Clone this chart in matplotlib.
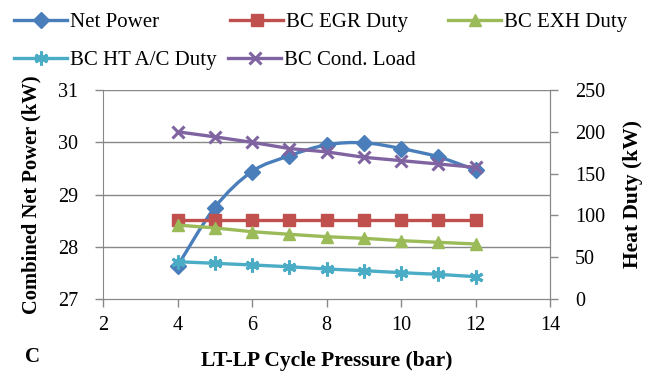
import matplotlib.pyplot as plt
from matplotlib.path import Path
from matplotlib.patches import PathPatch
from matplotlib.lines import Line2D

plt.rcParams['font.family'] = ['Liberation Serif', 'DejaVu Serif']

pressure = [4, 5, 6, 7, 8, 9, 10, 11, 12]
net_power = [27.63, 28.75, 29.44, 29.74, 29.95, 29.99, 29.88, 29.72, 29.47]
egr_duty = [95, 95, 95, 95, 95, 95, 95, 95, 95]
exh_duty = [88.5, 85, 80.5, 77.4, 74.5, 72.6, 69.8, 67.8, 65.8]
ht_ac_duty = [44.6, 42.7, 40.7, 38.6, 35.9, 33.9, 31.5, 29.5, 26.7]
cond_load = [200, 194, 187.4, 180, 176, 169.5, 165.5, 161.5, 157.5]

blue = '#4A7EBB'
red = '#C0504D'
green = '#9BBB59'
cyan = '#4BACC6'
purple = '#8064A2'
grey = '#888888'

W, H = 647, 372
fig = plt.figure(figsize=(W / 100, H / 100), dpi=100)
ax = fig.add_axes([103 / W, 1 - 299 / H, 447 / W, 209 / H])
ax2 = ax.twinx()


def smooth_path(xs, ys):
    # bezier segments through the points, like a spreadsheet "smoothed line"
    pts = list(zip(xs, ys))
    verts = [pts[0]]
    codes = [Path.MOVETO]
    for i in range(len(pts) - 1):
        p0 = pts[max(i - 1, 0)]
        p1 = pts[i]
        p2 = pts[i + 1]
        p3 = pts[min(i + 2, len(pts) - 1)]
        c1 = (p1[0] + (p2[0] - p0[0]) / 6, p1[1] + (p2[1] - p0[1]) / 6)
        c2 = (p2[0] - (p3[0] - p1[0]) / 6, p2[1] - (p3[1] - p1[1]) / 6)
        verts += [c1, c2, p2]
        codes += [Path.CURVE4] * 3
    return Path(verts, codes)


ax.add_patch(PathPatch(smooth_path(pressure, net_power), fill=False,
                       edgecolor=blue, lw=2.4, zorder=3))
ax.plot(pressure, net_power, ls='none', marker='D', ms=8, color=blue, zorder=4)

ax2.plot(pressure, egr_duty, color=red, lw=2.4, marker='s', ms=9)
ax2.plot(pressure, exh_duty, color=green, lw=2.4, marker='^', ms=9)
ax2.plot(pressure, ht_ac_duty, color=cyan, lw=2.4, marker=(6, 2, 0), ms=10, mew=2.2)
ax2.plot(pressure, cond_load, color=purple, lw=2.4, marker='x', ms=8, mew=2.2)

ax.set_xlim(2, 14)
ax.set_ylim(27, 31)
ax2.set_ylim(0, 250)
ax.set_xticks(range(2, 15, 2))
ax.set_yticks([27, 28, 29, 30, 31])
ax2.set_yticks(range(0, 251, 50))
for y in [28, 29, 30, 31]:
    ax.axhline(y, color=grey, lw=1, zorder=1)

for a in (ax, ax2):
    for s in a.spines.values():
        s.set_color(grey)
    a.spines['top'].set_visible(False)
    a.tick_params(colors=grey, labelcolor='black', labelsize=14.5, length=6, width=1)
ax.tick_params(axis='y', pad=12)
ax2.tick_params(axis='y', pad=12)
ax.tick_params(axis='x', pad=6)
ax2.spines['left'].set_visible(False)

ax.set_ylabel('Combined Net Power (kW)', fontsize=14.8, fontweight='bold', labelpad=12)
ax2.set_ylabel('Heat Duty (kW)', fontsize=15.5, fontweight='bold', labelpad=13)
ax.set_xlabel('LT-LP Cycle Pressure (bar)', fontsize=15.5, fontweight='bold', labelpad=12)
fig.text(33 / W, 1 - 357 / H, 'C', fontsize=15, fontweight='bold', ha='center', va='center')

entries = [
    ('Net Power', blue, 'D', 8, 1, 14, 22),
    ('BC EGR Duty', red, 's', 9, 1, 230, 22),
    ('BC EXH Duty', green, '^', 9, 1, 448, 22),
    ('BC HT A/C Duty', cyan, (6, 2, 0), 10, 2.2, 14, 60),
    ('BC Cond. Load', purple, 'x', 8, 2.2, 228, 60),
]
for label, c, m, ms, mew, px, py in entries:
    h = Line2D([], [], color=c, lw=2.4, marker=m, ms=ms, mew=mew)
    fig.legend([h], [label], loc='center left', frameon=False,
               bbox_to_anchor=(px / W, 1 - py / H), borderaxespad=0,
               borderpad=0, handlelength=2.55, handletextpad=0.15,
               fontsize=15)

fig.savefig('out.png', dpi=100)
